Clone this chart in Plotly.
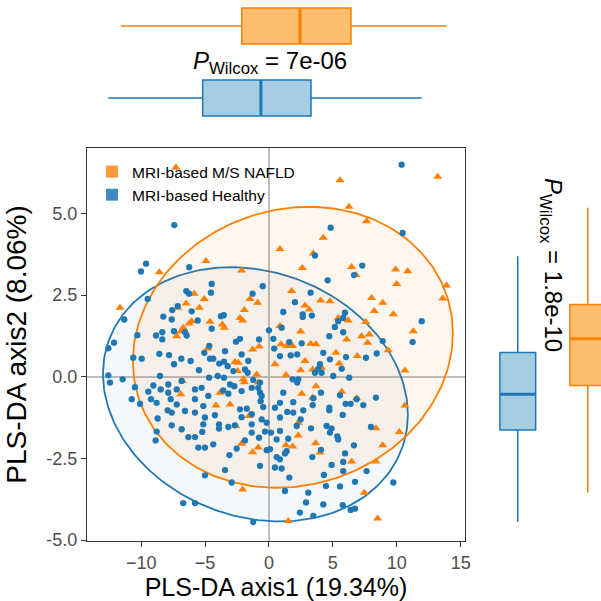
import numpy as np
import plotly.graph_objects as go

# ---------------- data ----------------
groups = ["MRI-based M/S NAFLD", "MRI-based Healthy"]

healthy_x = [-7.41,-9.62,-10.02,-6.24,-9.49,-11.32,-6.47,-6.26,-4.48,-4.54,-0.49,-1.28,-6.05,-7.14,-7.57,-8.27,-7.61,-5.58,-3.76,-3.54,-4.48,-7.43,-8.35,0.0,0.99,
 10.38,10.46,4.83,3.6,7.3,6.65,4.59,3.26,2.03,1.12,2.64,2.64,3.36,5.95,5.81,5.42,11.95,5.16,
 -10.3,-8.84,-8.35,-6.57,-6.44,-12.13,-12.57,-10.62,-9.96,-8.58,-7.82,-7.43,-6.86,-6.13,-5.06,-4.67,-4.62,-4.36,-5.48,-3.89,-3.52,-3.23,-3.44,-2.58,-2.27,-2.14,-1.62,-0.78,0.34,0.41,0.86,
 -12.57,-12.44,-11.45,-10.49,-10.74,-10.09,-9.44,-9.05,-8.47,-7.88,-7.88,-7.22,-6.83,-8.53,-9.23,-8.79,-7.69,-7.22,-7.93,-7.61,-8.71,-7.61,-6.83,-6.31,-5.79,-5.22,-8.79,-8.87,-6.57,-5.79,-5.79,-5.79,-5.27,-5.14,-4.75,-5.01,-5.14,-4.23,-3.91,-3.91,-3.18,-2.66,-2.14,-2.27,-1.74,-1.35,-1.35,-3.58,-3.18,-3.05,-2.71,-2.14,-1.35,-0.84,-0.7,-0.57,-0.65,-2.79,-1.88,-1.67,-1.23,-0.7,-4.69,-4.01,-3.52,
 -5.53,-5.01,-4.36,-3.1,-2.53,-1.88,-1.35,-0.78,-0.31,0.16,-0.18,0.08,0.6,0.86,-5.01,-2.92,-0.7,0.47,-6.71,-5.79,-1.23,-3.44,0.86,0.86,0.6,-0.45,-0.57,-0.18,0.86,0.47,
 4.72,5.81,1.59,2.56,2.21,1.7,4.25,4.77,3.99,4.12,3.6,3.86,5.69,5.03,6.28,6.03,7.59,8.43,8.9,11.24,1.85,2.29,2.21,1.12,1.43,1.9,1.9,2.68,2.48,4.07,3.47,3.42,5.56,6.0,6.39,6.86,7.38,8.37,4.72,4.72,5.77,
 2.17,3.29,4.51,4.9,4.77,5.35,5.42,7.98,1.51,1.38,1.25,0.99,1.59,1.25,3.39,4.07,6.65,5.95,4.9,5.81,5.81,4.3,7.64,6.73,5.56,4.46,3.08,2.9,4.25,5.77,6.39,6.73,3.47,2.42,9.73]
healthy_y = [4.64,3.46,3.22,3.35,2.38,1.75,2.62,2.54,2.84,2.57,2.77,2.54,2.0,2.16,2.04,1.84,1.75,1.72,1.85,1.88,1.47,1.39,1.36,1.42,1.5,
 6.49,4.4,4.56,3.71,3.4,3.11,2.95,2.57,2.28,1.98,1.91,1.83,1.87,1.96,1.8,1.7,1.7,1.52,
 1.27,1.26,1.14,1.36,1.26,1.04,0.87,0.58,0.55,0.7,0.66,0.38,0.55,0.48,0.73,0.94,0.55,0.55,0.2,0.4,0.46,0.32,0.78,1.07,1.16,0.68,0.48,1.14,1.16,0.86,0.63,
 0.04,-0.18,-0.08,-0.32,-0.69,-0.83,-0.46,-0.27,-0.39,-0.24,-0.49,-0.39,-0.13,0.02,-0.69,-0.8,-0.69,-0.85,-1.03,-1.1,-1.28,-1.49,-1.61,-1.85,-1.85,-1.69,-1.68,-1.95,-1.05,-1.1,-0.69,-0.39,-0.34,-0.9,-0.59,-1.25,-1.46,-1.18,-1.46,-1.59,-1.54,-1.49,-1.24,-1.0,-0.98,-1.46,-1.15,-0.42,-0.52,-0.24,-0.29,-0.44,-0.34,-0.34,-0.49,-0.59,-0.75,0.17,0.22,0.12,-0.1,-0.18,-0.03,0.02,-0.03,
 -2.17,-2.17,-2.07,-2.4,-2.2,-1.95,-1.71,-1.87,-1.68,-1.71,-2.25,-2.22,-2.46,-2.53,-3.02,-3.24,-2.73,-2.78,-3.87,-3.87,-4.45,-2.86,-1.25,-1.66,-1.92,-0.93,-1.31,-1.41,-0.8,-0.95,
 1.24,1.36,1.06,1.02,0.68,0.65,0.73,0.53,0.38,0.12,0.12,0.24,0.24,0.02,-0.03,0.6,0.58,0.71,1.09,1.06,-0.08,-0.08,-0.18,-0.49,-1.08,-1.1,-0.78,-1.03,-1.31,-0.49,-0.66,-0.87,-0.57,-0.83,-0.83,-0.69,-0.87,-0.64,-0.95,-1.03,-1.17,
 -1.51,-1.58,-1.51,-1.59,-1.71,-1.83,-1.92,-1.54,-1.9,-2.28,-2.35,-2.81,-3.09,-3.5,-2.46,-2.24,-2.1,-2.35,-2.7,-2.61,-2.89,-3.01,-2.89,-3.22,-3.36,-3.35,-3.55,-3.85,-3.91,-3.93,-4.08,-4.04,-4.26,-4.16,-3.24]

nafld_x = [0.86,-4.93,-2.14,-8.58,-11.66,-5.85,-5.06,-1.49,-0.89,-7.14,-6.49,-5.45,-1.93,-2.27,-2.06,-6.05,-6.24,-4.62,-3.65,-3.5,-6.71,-6.89,0.86,-7.28,
 5.56,13.2,6.26,7.64,4.25,3.47,2.61,6.47,6.81,9.91,10.85,9.99,13.9,1.77,8.03,8.9,13.6,4.04,4.77,2.82,3.15,8.24,9.73,5.42,6.2,7.57,11.29,2.48,
 -7.22,-6.78,-4.8,-2.66,-2.4,-1.28,-0.76,0.47,0.94,-2.45,-2.01,-1.93,-0.96,-0.84,-6.78,-6.91,-3.83,-4.15,-3.05,-1.56,-2.6,-2.14,-1.28,-0.84,-2.06,
 6.08,7.25,7.85,7.72,1.38,1.85,3.26,3.68,5.24,6.91,9.33,2.82,2.48,3.42,4.12,5.5,1.33,10.64,3.68,2.56,3.42,5.69,6.86,10.64,8.37,10.2,8.9,2.29,2.29,1.33,1.85,3.65,3.99,6.47,8.37,7.46,8.5,1.51]
nafld_y = [3.91,3.54,3.25,3.2,2.11,2.54,2.38,2.38,2.26,2.11,2.24,2.11,2.04,1.8,1.72,1.7,1.63,1.68,1.6,1.5,1.5,1.39,1.55,6.4,
 6.01,6.12,5.2,4.76,4.25,3.77,3.33,3.36,3.11,3.28,3.23,2.84,2.79,2.62,2.41,2.26,2.39,2.33,2.31,2.18,2.06,2.01,1.91,1.8,1.72,1.67,1.39,1.38,
 1.24,1.39,0.86,0.45,0.43,0.83,0.92,0.38,0.99,0.17,-0.08,-0.17,0.07,-0.18,-0.13,-0.54,-0.49,-0.88,-0.85,-1.2,-1.51,-2.05,-2.31,-2.17,-3.45,
 1.14,1.24,1.29,1.04,0.94,0.94,1.01,0.99,0.73,0.63,0.81,0.48,0.2,0.22,0.27,0.4,0.05,0.19,-0.29,-0.52,-0.64,-0.46,-0.66,-0.88,-1.58,-1.69,-2.1,-1.41,-1.8,-2.1,-2.14,-2.04,-2.32,-2.6,-2.6,-3.55,-4.34,-4.42]

# 95% ellipse parameters: centre x, centre y, half-extent x, half-extent y, correlation
ellipse_nafld = [1.87, 0.90, 12.52, 4.30, 0.10]
ellipse_healthy = [-1.06, -0.54, 11.93, 3.89, -0.16]

# marginal box statistics: lowerfence, q1, median, q3, upperfence
box_axis1_nafld = [-11.58, -2.13, 2.43, 6.42, 13.90]
box_axis1_healthy = [-12.57, -5.19, -0.63, 3.29, 11.95]
box_axis2_nafld = [-3.55, -0.27, 1.16, 2.21, 5.17]
box_axis2_healthy = [-4.45, -1.63, -0.54, 0.74, 3.69]

p_axis1 = "7e-06"
p_axis2 = "1.8e-10"

x_ticks = [-10, -5, 0, 5, 10, 15]
y_ticks = [-5.0, -2.5, 0.0, 2.5, 5.0]
y_ticklabels = ["-5.0", "-2.5", "0.0", "2.5", "5.0"]

# ---------------- style ----------------
ORANGE = "#FF7F00"
BLUE = "#1F78B4"
ORANGE_FILL = "#FDBF6F"
BLUE_FILL = "#A6CEE3"
FONT = "Liberation Sans, Arial, sans-serif"

def ellipse(params, n=240):
    cx, cy, hx, hy, rho = params
    t = np.linspace(0, 2 * np.pi, n)
    ex = cx + hx * np.cos(t)
    ey = cy + hy * (rho * np.cos(t) + np.sqrt(1 - rho ** 2) * np.sin(t))
    return ex, ey

fig = go.Figure()

# ellipses
for params, col, fill in [(ellipse_healthy, BLUE, "rgba(31,120,180,0.05)"),
                          (ellipse_nafld, ORANGE, "rgba(255,127,0,0.07)")]:
    ex, ey = ellipse(params)
    fig.add_trace(go.Scatter(x=ex, y=ey, mode="lines", fill="toself", fillcolor=fill,
                             line=dict(color=col, width=1.8), showlegend=False, hoverinfo="skip"))

# points
fig.add_trace(go.Scatter(x=nafld_x, y=nafld_y, mode="markers", showlegend=False,
                         marker=dict(symbol="triangle-up", size=8, color=ORANGE, line=dict(width=0))))
fig.add_trace(go.Scatter(x=healthy_x, y=healthy_y, mode="markers", showlegend=False,
                         marker=dict(symbol="circle", size=6.3, color=BLUE, line=dict(width=0))))

# legend entries
fig.add_trace(go.Scatter(x=[None], y=[None], mode="markers", name=groups[0],
                         marker=dict(symbol="square", size=14, color="#FF9A3C")))
fig.add_trace(go.Scatter(x=[None], y=[None], mode="markers", name=groups[1],
                         marker=dict(symbol="square", size=14, color="#3F8CC6")))

# top marginal boxes (axis1)
BW = 0.5
for pos, stats, line_c, fill_c in [(1, box_axis1_nafld, ORANGE, ORANGE_FILL),
                                   (0, box_axis1_healthy, BLUE, BLUE_FILL)]:
    lo, q1, med, q3, hi = stats
    fig.add_trace(go.Box(y=[pos], q1=[q1], median=[med], q3=[q3], lowerfence=[lo], upperfence=[hi],
                         orientation="h", width=BW, whiskerwidth=0, fillcolor=fill_c,
                         line=dict(color=line_c, width=1.5), xaxis="x2", yaxis="y2",
                         showlegend=False, hoverinfo="skip"))
    fig.add_trace(go.Scatter(x=[med, med], y=[pos - BW / 2, pos + BW / 2], mode="lines",
                             line=dict(color=line_c, width=3), xaxis="x2", yaxis="y2",
                             showlegend=False, hoverinfo="skip"))

# right marginal boxes (axis2)
BW3 = 0.51
for pos, stats, line_c, fill_c in [(0, box_axis2_healthy, BLUE, BLUE_FILL),
                                   (1, box_axis2_nafld, ORANGE, ORANGE_FILL)]:
    lo, q1, med, q3, hi = stats
    fig.add_trace(go.Box(x=[pos], q1=[q1], median=[med], q3=[q3], lowerfence=[lo], upperfence=[hi],
                         orientation="v", width=BW3, whiskerwidth=0, fillcolor=fill_c,
                         line=dict(color=line_c, width=1.5), xaxis="x3", yaxis="y3",
                         showlegend=False, hoverinfo="skip"))
    fig.add_trace(go.Scatter(x=[pos - BW3 / 2, pos + BW3 / 2], y=[med, med], mode="lines",
                             line=dict(color=line_c, width=3), xaxis="x3", yaxis="y3",
                             showlegend=False, hoverinfo="skip"))

W = H = 601
main_x_dom = [87 / W, 465 / W]
main_y_dom = [(H - 541) / H, (H - 148) / H]

fig.update_layout(
    width=W, height=H, margin=dict(l=0, r=0, t=0, b=0),
    paper_bgcolor="white", plot_bgcolor="white",
    font=dict(family=FONT, color="black"),
    xaxis=dict(domain=main_x_dom, range=[-14.24, 15.34], tickvals=x_ticks,
               ticks="outside", ticklen=5, tickcolor="#333333", tickwidth=1.3,
               tickfont=dict(size=18, color="#4D4D4D"),
               showline=True, mirror=True, linecolor="#333333", linewidth=1,
               showgrid=False, zeroline=True, zerolinecolor="#BEBEBE", zerolinewidth=1.6,
               title=dict(text="PLS-DA axis1 (19.34%)", font=dict(size=25), standoff=2),
               automargin=False),
    yaxis=dict(domain=main_y_dom, range=[-5.03, 7.0], tickvals=y_ticks, ticktext=y_ticklabels,
               ticks="outside", ticklen=5, tickcolor="#333333", tickwidth=1.3,
               tickfont=dict(size=18, color="#4D4D4D"),
               showline=True, mirror=True, linecolor="#333333", linewidth=1,
               showgrid=False, zeroline=True, zerolinecolor="#BEBEBE", zerolinewidth=1.6,
               title=dict(text="PLS-DA axis2 (8.06%)", font=dict(size=28), standoff=11),
               automargin=False),
    xaxis2=dict(domain=main_x_dom, matches="x", anchor="y2", visible=False),
    yaxis2=dict(domain=[(H - 125) / H, 1.0], range=[-0.375, 1.361], anchor="x2", visible=False),
    xaxis3=dict(domain=[490 / W, 1.0], range=[-0.397, 1.189], anchor="y3", visible=False),
    yaxis3=dict(domain=main_y_dom, matches="y", anchor="x3", visible=False),
    legend=dict(x=92 / W, y=(H - 155) / H, xanchor="left", yanchor="top",
                bgcolor="rgba(0,0,0,0)", font=dict(size=15.5), itemsizing="constant",
                tracegroupgap=0),
    showlegend=True,
    annotations=[
        dict(text="<i>P</i><sub>Wilcox</sub> = " + p_axis1, x=270 / W, y=(H - 62) / H,
             xref="paper", yref="paper", showarrow=False, font=dict(size=24),
             xanchor="center", yanchor="middle"),
        dict(text="<i>P</i><sub>Wilcox</sub> = " + p_axis2, x=552 / W, y=(H - 265) / H,
             xref="paper", yref="paper", showarrow=False, font=dict(size=24), textangle=90,
             xanchor="center", yanchor="middle"),
    ],
)

fig.write_html("out.html", config={"displayModeBar": False},
               post_script="document.body.style.margin='0';document.body.style.overflow='hidden';")
